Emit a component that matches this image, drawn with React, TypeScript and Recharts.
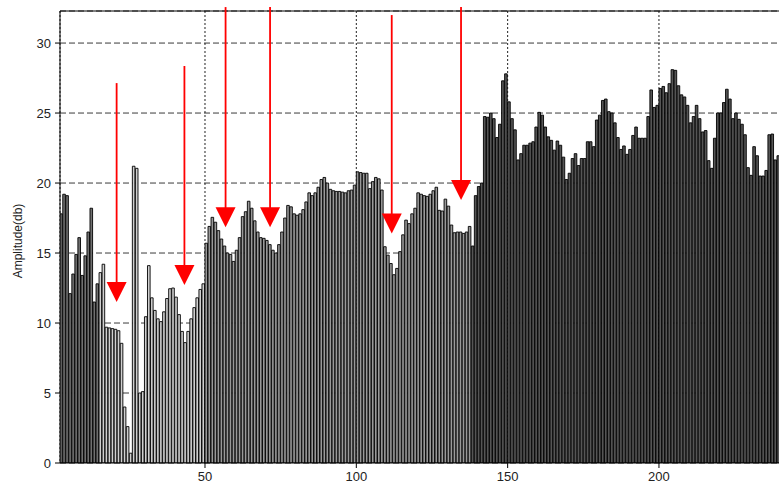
import React from 'react';
import { BarChart, Bar, XAxis, YAxis, CartesianGrid, Cell, ReferenceLine, ReferenceDot } from 'recharts';

// first frequency bin shown (bars are centred on bin + 0.5)
const firstBin = 2;

// amplitude (dB) of bins 2 .. 239
const amplitude = [
  17.8, 19.2, 19.1, 12.1, 13.5, 14.9, 16.1, 13.4, 14.8, 16.5,
  18.2, 11.5, 12.8, 13.6, 14.2, 9.7, 9.65, 9.6, 9.55, 9.45,
  8.55, 4.0, 2.6, 0.7, 21.2, 21.05, 5.0, 5.1, 10.45, 14.1,
  11.8, 10.9, 10.3, 10.1, 10.8, 11.75, 12.45, 12.5, 11.85, 10.6,
  9.4, 8.6, 9.4, 10.3, 11.1, 11.8, 12.4, 12.8, 15.7, 16.9,
  17.55, 17.2, 16.6, 16.0, 15.5, 15.0, 14.9, 14.4, 15.2, 16.1,
  17.6, 17.95, 18.7, 18.2, 17.3, 16.5, 16.1, 16.05, 15.9, 15.6,
  15.2, 15.0, 15.6, 16.5, 17.5, 18.4, 18.3, 17.8, 17.7, 17.8,
  18.1, 18.65, 19.3, 19.1, 19.3, 19.7, 20.25, 20.4, 20.0, 19.55,
  19.45, 19.4, 19.4, 19.35, 19.3, 19.45, 19.5, 19.85, 20.8, 20.75,
  20.7, 20.7, 19.6, 20.1, 20.4, 20.3, 19.5, 15.45, 14.85, 14.25,
  13.45, 13.9, 15.1, 16.3, 17.35, 17.1, 17.8, 18.2, 19.3, 19.2,
  19.1, 19.05, 19.2, 19.45, 19.7, 18.05, 18.0, 18.85, 18.35, 17.0,
  16.45, 16.5, 16.5, 16.4, 16.5, 16.9, 15.5, 19.1, 19.75, 20.0,
  24.75, 24.7, 25.0, 24.6, 23.25, 24.2, 27.3, 27.8, 25.8, 24.6,
  23.8, 21.65, 22.1, 22.7, 22.7, 22.85, 22.95, 24.0, 25.05, 24.85,
  24.0, 23.3, 23.05, 22.35, 23.0, 22.7, 21.85, 20.25, 20.7, 21.75,
  22.1, 21.25, 21.75, 21.75, 22.95, 22.95, 22.6, 24.5, 24.85, 25.9,
  26.0, 25.1, 25.0, 24.3, 23.25, 22.4, 22.65, 22.05, 22.4, 23.4,
  24.0, 23.2, 23.2, 23.2, 24.75, 26.65, 25.4, 25.55, 26.75, 26.9,
  26.45, 27.1, 28.1, 28.05, 26.95, 26.3, 26.15, 25.55, 24.3, 24.75,
  25.55, 24.6, 23.65, 23.75, 21.6, 21.05, 23.2, 25.0, 25.0, 25.75,
  26.7, 26.0, 24.6, 25.0, 24.55, 24.2, 23.45, 21.1, 20.55, 22.6,
  21.95, 20.5, 20.5, 20.9, 23.45, 23.5, 21.65, 21.95,
];

const xTicks = [50, 100, 150, 200];
const yTicks = [0, 5, 10, 15, 20, 25, 30];

// red arrow annotations: x position, where the shaft starts, where the head points
const arrowX = [20.8, 43.2, 56.8, 71.5, 111.7, 134.6];
const arrowStart = [27.14, 28.36, 32.57, 32.57, 32.0, 32.57];
const arrowTip = [11.5, 12.71, 16.84, 16.84, 16.4, 18.79];

const Y_MAX = 32.29;
const X_MIN = 2.09;
const X_MAX = 246.6;

const data = amplitude.map((v, i) => ({ bin: firstBin + i + 0.5, idx: firstBin + i, amp: v }));

function fillFor(idx: number) {
  if (idx < 15) return '#707070';
  if (idx < 50) return '#d0d0d0';
  if (idx < 138) return '#999999';
  return '#555555';
}

const tickStyle = { fill: '#222', fontSize: 13, fontFamily: '"Liberation Sans", Arial, sans-serif' };

function AxisTitle(props: any) {
  const vb = props.viewBox || { x: 0, y: 0, width: 60, height: 452 };
  const x = vb.x + 18;
  const y = vb.y + vb.height / 2 + 4;
  return (
    <text
      x={x}
      y={y}
      transform={`rotate(-90 ${x} ${y})`}
      textAnchor="middle"
      dominantBaseline="central"
      fill="#222"
      fontSize={12}
      fontFamily='"Liberation Sans", Arial, sans-serif'
    >
      Amplitude(db)
    </text>
  );
}

function ArrowHead(props: any) {
  const { cx, cy } = props;
  if (cx == null || cy == null) return null;
  return <polygon points={`${cx - 10},${cy - 20} ${cx + 10},${cy - 20} ${cx},${cy}`} fill="#ff0000" />;
}

export default function App() {
  return (
    <div style={{ position: 'absolute', left: 0, top: 0, width: 779, height: 491, overflow: 'hidden', background: '#fff' }}>
      <BarChart
        width={800}
        height={491}
        data={data}
        margin={{ top: 11, right: 0, bottom: 0, left: 0 }}
        barCategoryGap={0}
        barGap={0}
      >
        <CartesianGrid vertical={false} stroke="#3a3a3a" strokeDasharray="6 3" />
        <CartesianGrid horizontal={false} stroke="#222" strokeDasharray="2 2" />
        <XAxis
          type="number"
          dataKey="bin"
          domain={[X_MIN, X_MAX]}
          allowDataOverflow
          ticks={xTicks}
          interval={0}
          tickSize={5}
          tickMargin={4}
          height={28}
          stroke="#000"
          tick={tickStyle}
        />
        <YAxis
          type="number"
          domain={[0, Y_MAX]}
          allowDataOverflow
          ticks={yTicks}
          interval={0}
          width={60}
          tickSize={5}
          tickMargin={4}
          stroke="#000"
          tick={tickStyle}
          label={<AxisTitle />}
        />
        <ReferenceLine y={Y_MAX} stroke="#000" strokeWidth={1} />
        <Bar dataKey="amp" isAnimationActive={false} barSize={2.6} stroke="#000" strokeWidth={0.9}>
          {data.map((d) => (
            <Cell key={d.idx} fill={fillFor(d.idx)} />
          ))}
        </Bar>
        {arrowX.map((ax, i) => (
          <ReferenceLine
            key={'l' + i}
            segment={[{ x: ax, y: arrowStart[i] }, { x: ax, y: arrowTip[i] + 1 }]}
            stroke="#ff0000"
            strokeWidth={1.8}
            ifOverflow="visible"
          />
        ))}
        {arrowX.map((ax, i) => (
          <ReferenceDot key={'h' + i} x={ax} y={arrowTip[i]} ifOverflow="visible" shape={<ArrowHead />} />
        ))}
      </BarChart>
    </div>
  );
}
